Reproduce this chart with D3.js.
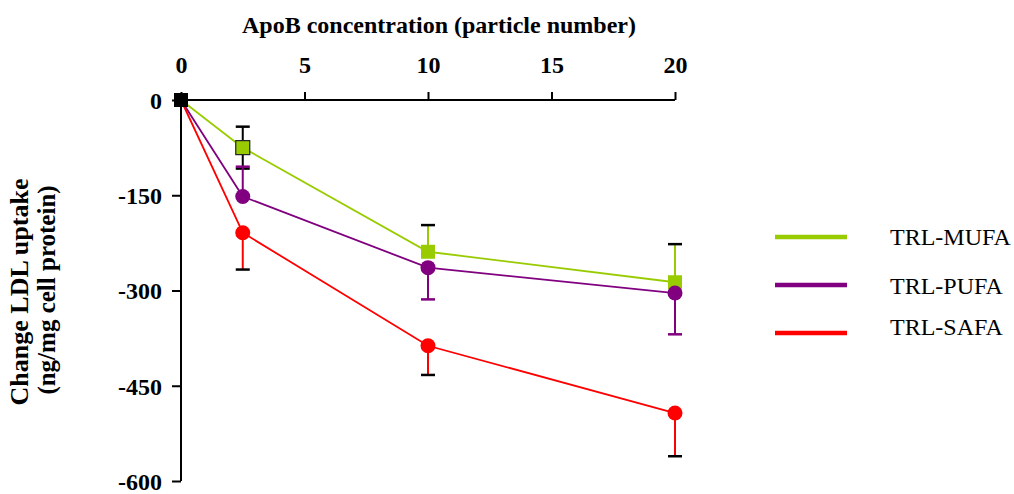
<!DOCTYPE html>
<html><head><meta charset="utf-8">
<script src="https://cdn.jsdelivr.net/npm/d3@7/dist/d3.min.js"></script>
<style>body{margin:0;background:#fff}svg{display:block}text{font-family:"Liberation Serif","Times New Roman",serif}</style>
</head><body><svg id="c" width="1014" height="494"></svg>
<script>
const xValues = [0, 2.5, 10, 20];
const seriesNames = ["TRL-MUFA", "TRL-PUFA", "TRL-SAFA"];
const mufa = [0, -75, -239, -287];
const pufa = [0, -152, -264, -304];
const safa = [0, -209, -387, -493];
const mufaErr = [0, 33, 42, 60];
const pufaErr = [0, 47, 50, 65];
const safaErr = [0, 58, 46, 68];
const mufaErrDir = [0, 0, 1, 1];   // 1 = up only, -1 = down only, 0 = both
const pufaErrDir = [0, 1, -1, -1];
const safaErrDir = [0, -1, -1, -1];
const xTicks = [0, 5, 10, 15, 20];
const yTicks = [0, -150, -300, -450, -600];

const svg = d3.select("#c");
const x = d3.scaleLinear().domain([0, 20]).range([181, 675]);
const y = d3.scaleLinear().domain([0, -600]).range([100, 481]);

const series = [
  {name: seriesNames[0], v: mufa, e: mufaErr, d: mufaErrDir, color: "#99cc00", shape: "square", capColor: "#000"},
  {name: seriesNames[1], v: pufa, e: pufaErr, d: pufaErrDir, color: "#800080", shape: "circle", capColor: "#800080"},
  {name: seriesNames[2], v: safa, e: safaErr, d: safaErrDir, color: "#ff0000", shape: "circle", capColor: "#000"}
];

const fmt = d => String(d);
// axes
const xAxis = svg.append("g").attr("transform", "translate(0,100)")
  .call(d3.axisTop(x).tickValues(xTicks).tickSize(8).tickPadding(19).tickFormat(fmt));
const yAxis = svg.append("g").attr("transform", "translate(181,0)")
  .call(d3.axisLeft(y).tickValues(yTicks).tickSize(9).tickPadding(10).tickFormat(fmt));
[xAxis, yAxis].forEach(a => {
  a.select(".domain").attr("stroke", "#000").attr("stroke-width", 2);
  a.selectAll(".tick line").attr("stroke", "#000").attr("stroke-width", 2);
  a.selectAll(".tick text").attr("fill", "#000").attr("font-size", 24).attr("font-weight", "bold")
    .style("font-family", "Liberation Serif, serif");
});
xAxis.select(".domain").attr("d", `M${x(0)},0H${x(20)}`);
yAxis.select(".domain").attr("d", `M0,${y(0)}V${y(-600)}`);
yAxis.selectAll(".tick text").attr("dy", "0.35em");
xAxis.selectAll(".tick text").attr("dy", "0");

svg.append("text").attr("x", 439).attr("y", 33).attr("text-anchor", "middle")
  .attr("font-size", 24).attr("font-weight", "bold").text("ApoB concentration (particle number)");
svg.append("text").attr("transform", "translate(28,292) rotate(-90)").attr("text-anchor", "middle")
  .attr("font-size", 26).attr("font-weight", "bold").text("Change LDL uptake");
svg.append("text").attr("transform", "translate(55,290) rotate(-90)").attr("text-anchor", "middle")
  .attr("font-size", 25).attr("font-weight", "bold").text("(ng/mg cell protein)");

// lines
const line = d3.line().x((d, i) => x(xValues[i])).y(d => y(d));
series.forEach(s => {
  svg.append("path").attr("d", line(s.v)).attr("fill", "none").attr("stroke", s.color).attr("stroke-width", 1.8);
});

// error bars
series.forEach(s => {
  s.v.forEach((v, i) => {
    if (!s.e[i]) return;
    const cx = x(xValues[i]);
    const ends = [];
    if (s.d[i] >= 0) ends.push(v + s.e[i]);
    if (s.d[i] <= 0) ends.push(v - s.e[i]);
    const stemColor = (s.d[i] === 0) ? "#000" : s.color;
    ends.forEach(e => {
      svg.append("line").attr("x1", cx).attr("x2", cx).attr("y1", y(v)).attr("y2", y(e))
        .attr("stroke", stemColor).attr("stroke-width", 2);
      svg.append("line").attr("x1", cx - 7).attr("x2", cx + 7).attr("y1", y(e)).attr("y2", y(e))
        .attr("stroke", s.d[i] === 0 ? "#000" : s.capColor).attr("stroke-width", 2.5);
    });
  });
});

// markers
series.forEach(s => {
  s.v.forEach((v, i) => {
    if (i === 0) return;
    const cx = x(xValues[i]), cy = y(v);
    if (s.shape === "square") {
      svg.append("rect").attr("x", cx - 7).attr("y", cy - 7).attr("width", 14).attr("height", 14)
        .attr("fill", s.color).attr("stroke", i === 1 ? "#222" : "none").attr("stroke-width", 1.2);
    } else {
      svg.append("circle").attr("cx", cx).attr("cy", cy).attr("r", 7.5).attr("fill", s.color);
    }
  });
});
// origin marker (all series coincide)
svg.append("rect").attr("x", x(0) - 7).attr("y", y(0) - 7).attr("width", 14).attr("height", 14).attr("fill", "#000");

// legend
const legY = [237, 285, 333];
const legTY = [245, 294, 335];
series.forEach((s, i) => {
  svg.append("line").attr("x1", 775).attr("x2", 847).attr("y1", legY[i]).attr("y2", legY[i])
    .attr("stroke", s.color).attr("stroke-width", 4.5);
  svg.append("text").attr("x", 890).attr("y", legTY[i]).attr("font-size", 24).attr("fill", "#000").text(s.name);
});
</script></body></html>
